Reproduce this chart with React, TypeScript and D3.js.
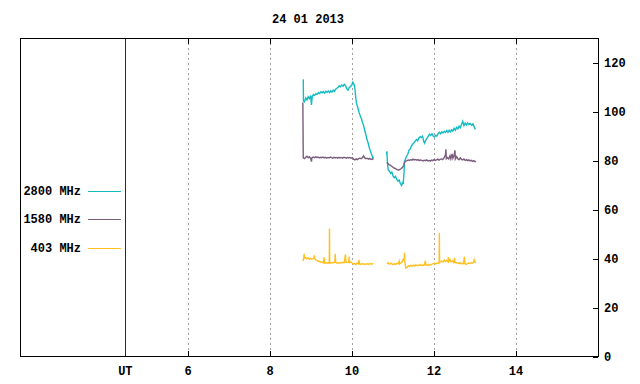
import React from "react";
import * as d3 from "d3";

type P = [number, number];

const title = "24 01 2013";
const xTicks = [6, 8, 10, 12, 14];
const yTicks = [0, 20, 40, 60, 80, 100, 120];
const utMark = 4.47;
const xDomain: [number, number] = [1.9, 16];
const yDomain: [number, number] = [0, 130.3];

const seriesNames = ["2800 MHz", "1580 MHz", "403 MHz"];
const seriesColors = ["#14bcc0", "#7a5c7c", "#ffc020"];

const s2800A: P[] = [
  [8.81, 113.4], [8.815, 104.5], [8.84, 104.2], [8.87, 105.8], [8.9, 105.0], [8.93, 106.3], [8.96, 105.6],
  [8.99, 106.8], [9.01, 103.0], [9.03, 106.5], [9.06, 107.2], [9.09, 106.9], [9.12, 107.6], [9.15, 107.3],
  [9.18, 108.0], [9.21, 107.6], [9.24, 108.3], [9.27, 107.9], [9.3, 108.4], [9.33, 107.8], [9.36, 108.5],
  [9.39, 108.1], [9.42, 108.6], [9.45, 108.0], [9.48, 108.7], [9.51, 108.2], [9.54, 109.0], [9.57, 108.5],
  [9.6, 109.4], [9.63, 109.8], [9.66, 110.2], [9.69, 110.8], [9.72, 110.4], [9.75, 111.1], [9.78, 110.6],
  [9.81, 111.4], [9.84, 110.9], [9.87, 109.6], [9.9, 109.0], [9.93, 110.0], [9.96, 110.5], [9.99, 111.0],
  [10.02, 112.3], [10.05, 111.4], [10.07, 109.5], [10.09, 106.0], [10.11, 103.5], [10.13, 102.5],
  [10.15, 101.2], [10.17, 100.0], [10.19, 99.0], [10.21, 98.0], [10.23, 97.4], [10.25, 96.0], [10.27, 95.2],
  [10.29, 94.0], [10.31, 92.5], [10.33, 91.3], [10.35, 90.0], [10.37, 88.5], [10.39, 87.6], [10.41, 86.2],
  [10.43, 85.0], [10.45, 84.0], [10.47, 83.0], [10.49, 82.2], [10.51, 81.0], [10.52, 81.8],
];
const s2800B: P[] = [
  [10.84, 82.6], [10.85, 84.0], [10.86, 80.5], [10.88, 76.5], [10.91, 76.0], [10.94, 75.0], [10.97, 75.5],
  [11.0, 74.0], [11.03, 73.2], [11.06, 73.8], [11.09, 72.5], [11.12, 71.8], [11.15, 72.3], [11.18, 70.8],
  [11.21, 70.0], [11.23, 71.2], [11.25, 71.0], [11.27, 76.0], [11.28, 79.8], [11.3, 80.8], [11.33, 82.0],
  [11.36, 82.8], [11.39, 84.5], [11.42, 85.0], [11.45, 86.2], [11.48, 86.9], [11.51, 87.5], [11.54, 88.2],
  [11.57, 88.8], [11.6, 88.3], [11.63, 89.5], [11.66, 90.0], [11.69, 89.6], [11.72, 90.2], [11.75, 88.0],
  [11.77, 87.3], [11.8, 88.6], [11.83, 89.4], [11.86, 90.2], [11.89, 91.0], [11.92, 90.5], [11.95, 91.2],
  [11.98, 90.3], [12.01, 89.9], [12.04, 90.6], [12.07, 90.2], [12.1, 91.3], [12.13, 91.8], [12.16, 91.2],
  [12.19, 92.0], [12.22, 91.5], [12.25, 92.2], [12.28, 91.7], [12.31, 92.5], [12.34, 91.8], [12.37, 92.6],
  [12.4, 92.0], [12.43, 92.8], [12.46, 92.2], [12.49, 93.4], [12.52, 92.6], [12.55, 93.8], [12.58, 93.2],
  [12.61, 94.3], [12.64, 93.6], [12.67, 95.0], [12.7, 96.3], [12.73, 94.5], [12.76, 95.5], [12.79, 94.8],
  [12.82, 95.6], [12.85, 95.0], [12.88, 95.4], [12.92, 94.6], [12.95, 95.2], [12.98, 94.0], [13.01, 93.0],
];

const s1580A: P[] = [
  [8.8, 104.0], [8.81, 81.3], [8.84, 81.0], [8.87, 81.6], [8.9, 82.0], [8.93, 81.4], [8.96, 81.8],
  [8.99, 81.2], [9.01, 79.8], [9.02, 81.3], [9.05, 81.7], [9.08, 81.4], [9.11, 81.8], [9.14, 81.5],
  [9.17, 81.7], [9.2, 81.3], [9.23, 81.6], [9.26, 81.4], [9.29, 81.7], [9.32, 81.3], [9.35, 81.6],
  [9.38, 81.2], [9.41, 81.5], [9.44, 81.3], [9.47, 81.7], [9.5, 81.4], [9.53, 81.2], [9.56, 81.6],
  [9.59, 81.3], [9.62, 81.5], [9.65, 81.2], [9.68, 81.6], [9.71, 81.3], [9.74, 81.5], [9.77, 81.2],
  [9.8, 81.6], [9.83, 81.4], [9.86, 81.2], [9.89, 81.5], [9.92, 81.3], [9.95, 81.5], [9.98, 81.2],
  [10.01, 81.4], [10.04, 80.8], [10.07, 80.5], [10.1, 80.9], [10.13, 80.6], [10.16, 81.0], [10.19, 81.2],
  [10.22, 81.0], [10.25, 81.4], [10.28, 82.2], [10.31, 81.3], [10.34, 81.0], [10.37, 81.2], [10.4, 80.8],
  [10.43, 81.1], [10.46, 80.7], [10.49, 80.9], [10.52, 80.6],
];
const s1580B: P[] = [
  [10.85, 79.5], [10.87, 79.0], [10.9, 78.6], [10.93, 78.4], [10.96, 78.0], [10.99, 77.6], [11.02, 77.2],
  [11.05, 77.0], [11.08, 76.7], [11.11, 76.5], [11.14, 76.4], [11.17, 76.6], [11.2, 77.0], [11.23, 77.5],
  [11.26, 78.2], [11.28, 79.5], [11.31, 80.0], [11.34, 80.2], [11.37, 80.5], [11.4, 80.3], [11.43, 80.6],
  [11.46, 80.4], [11.49, 80.8], [11.52, 80.5], [11.55, 80.7], [11.58, 80.4], [11.61, 80.6], [11.64, 80.2],
  [11.67, 80.5], [11.7, 80.3], [11.73, 80.1], [11.76, 80.4], [11.79, 80.2], [11.82, 80.5], [11.85, 80.1],
  [11.88, 80.3], [11.91, 80.0], [11.94, 80.4], [11.97, 80.2], [12.0, 80.6], [12.03, 80.3], [12.06, 80.5],
  [12.09, 80.8], [12.12, 80.4], [12.15, 80.7], [12.18, 80.9], [12.21, 80.6], [12.24, 81.2], [12.28, 82.6],
  [12.29, 84.8], [12.3, 81.0], [12.33, 81.5], [12.36, 80.9], [12.39, 82.2], [12.41, 81.0], [12.44, 83.0],
  [12.46, 81.2], [12.49, 82.5], [12.51, 84.4], [12.52, 80.9], [12.55, 81.8], [12.58, 81.0], [12.61, 80.6],
  [12.64, 81.3], [12.67, 80.7], [12.7, 80.5], [12.73, 80.9], [12.76, 80.3], [12.79, 80.6], [12.82, 80.2],
  [12.85, 80.5], [12.88, 80.1], [12.91, 80.3], [12.94, 79.9], [12.97, 80.2], [13.0, 79.8], [13.02, 80.0],
];

const s403A: P[] = [
  [8.8, 39.2], [8.82, 40.0], [8.83, 42.2], [8.84, 40.4], [8.87, 40.6], [8.9, 40.1], [8.93, 40.5],
  [8.96, 39.9], [8.99, 40.3], [9.02, 40.0], [9.05, 40.2], [9.07, 40.4], [9.08, 41.5], [9.09, 40.2],
  [9.12, 39.6], [9.15, 39.4], [9.18, 39.1], [9.21, 39.0], [9.24, 38.8], [9.27, 38.7], [9.3, 38.5],
  [9.32, 40.7], [9.33, 38.4], [9.36, 38.5], [9.39, 38.3], [9.42, 38.5], [9.445, 38.4], [9.45, 52.5],
  [9.455, 38.5], [9.48, 38.4], [9.51, 38.6], [9.54, 38.5], [9.58, 38.7], [9.59, 42.2], [9.6, 38.6],
  [9.63, 38.4], [9.66, 38.5], [9.69, 38.3], [9.72, 38.6], [9.75, 38.5], [9.78, 38.7], [9.81, 38.6],
  [9.84, 41.9], [9.85, 38.8], [9.88, 38.6], [9.92, 38.7], [9.93, 41.0], [9.94, 38.6], [9.97, 38.9],
  [10.0, 38.4], [10.03, 38.0], [10.06, 38.2], [10.09, 37.8], [10.12, 38.3], [10.15, 38.0], [10.17, 39.7],
  [10.18, 38.1], [10.21, 37.8], [10.24, 38.2], [10.27, 37.9], [10.3, 38.0], [10.33, 37.8], [10.36, 38.1],
  [10.39, 37.9], [10.42, 38.0], [10.45, 38.1], [10.48, 37.9], [10.52, 38.3],
];
const s403B: P[] = [
  [10.85, 38.1], [10.88, 38.5], [10.91, 37.9], [10.94, 38.3], [10.97, 38.0], [11.0, 37.7], [11.03, 38.1],
  [11.06, 37.8], [11.09, 38.2], [11.12, 38.0], [11.15, 39.2], [11.16, 38.0], [11.19, 38.4], [11.22, 38.8],
  [11.25, 39.9], [11.27, 39.5], [11.28, 42.6], [11.29, 38.5], [11.31, 36.3], [11.34, 36.5], [11.37, 37.2],
  [11.4, 37.0], [11.43, 37.4], [11.46, 37.1], [11.49, 37.5], [11.52, 37.2], [11.55, 37.6], [11.58, 37.3],
  [11.61, 37.5], [11.64, 37.4], [11.67, 37.8], [11.7, 37.3], [11.73, 37.6], [11.76, 37.5], [11.79, 39.3],
  [11.8, 37.6], [11.83, 37.4], [11.86, 37.8], [11.89, 37.4], [11.92, 37.7], [11.95, 37.9], [11.98, 38.1],
  [12.01, 38.3], [12.04, 38.0], [12.07, 38.4], [12.1, 38.2], [12.125, 38.5], [12.13, 50.8], [12.135, 38.6],
  [12.16, 39.0], [12.19, 39.2], [12.22, 38.8], [12.25, 39.6], [12.28, 39.0], [12.31, 39.4], [12.34, 38.9],
  [12.35, 40.8], [12.36, 39.0], [12.39, 39.8], [12.42, 38.8], [12.45, 39.2], [12.48, 38.6], [12.5, 40.5],
  [12.51, 38.7], [12.54, 38.4], [12.57, 38.6], [12.6, 38.2], [12.63, 38.5], [12.66, 38.0], [12.69, 38.3],
  [12.72, 38.1], [12.74, 41.0], [12.75, 38.2], [12.78, 37.8], [12.81, 38.0], [12.84, 38.4], [12.87, 38.2],
  [12.9, 38.5], [12.93, 38.3], [12.96, 38.6], [12.98, 39.7], [13.0, 38.8], [13.02, 38.4],
];

const seriesSegments: P[][][] = [
  [s2800A, s2800B],
  [s1580A, s1580B],
  [s403A, s403B],
];

const W = 640;
const H = 384;
const L = 20;
const R = 598;
const T = 38;
const B = 357;
const font = "'Liberation Mono', 'DejaVu Sans Mono', monospace";

export default function App() {
  const x = d3.scaleLinear().domain(xDomain).range([L, R]);
  const y = d3.scaleLinear().domain(yDomain).range([B, T]);
  const line = d3
    .line<P>()
    .x((d) => x(d[0]))
    .y((d) => y(d[1]));
  const legendY = [191, 219, 248];

  return (
    <svg
      width={W}
      height={H}
      style={{ position: "absolute", left: 0, top: 0, background: "#fff" }}
      fontFamily={font}
      fontWeight="bold"
      fontSize={12}
    >
      <rect x={0} y={0} width={W} height={H} fill="#fff" />
      <text x={308} y={23} textAnchor="middle" fill="#000">
        {title}
      </text>
      {xTicks.map((t) => (
        <g key={"xt" + t}>
          <line
            x1={Math.round(x(t)) + 0.5}
            x2={Math.round(x(t)) + 0.5}
            y1={T}
            y2={B}
            stroke="#a0a0a0"
            strokeDasharray="2,3"
          />
          <line x1={Math.round(x(t)) + 0.5} x2={Math.round(x(t)) + 0.5} y1={T} y2={T + 6} stroke="#000" />
          <line x1={Math.round(x(t)) + 0.5} x2={Math.round(x(t)) + 0.5} y1={B - 6} y2={B} stroke="#000" />
          <text x={x(t)} y={375} textAnchor="middle" fill="#000">
            {t}
          </text>
        </g>
      ))}
      <line
        x1={Math.round(x(utMark)) + 0.5}
        x2={Math.round(x(utMark)) + 0.5}
        y1={T}
        y2={B}
        stroke="#8b0000"
      />
      <text x={x(utMark)} y={375} textAnchor="middle" fill="#000">
        UT
      </text>
      {yTicks.map((v) => (
        <g key={"yt" + v}>
          <line x1={R - 5} x2={R} y1={Math.round(y(v)) + 0.5} y2={Math.round(y(v)) + 0.5} stroke="#000" />
          <text x={604} y={y(v) + 4} textAnchor="start" fill="#000">
            {v}
          </text>
        </g>
      ))}
      {seriesSegments.map((segs, i) =>
        segs.map((seg, j) => (
          <path
            key={"s" + i + "_" + j}
            d={line(seg) || ""}
            fill="none"
            stroke={seriesColors[i]}
            strokeWidth={1.4}
            strokeLinejoin="miter"
          />
        ))
      )}
      {seriesNames.map((n, i) => (
        <g key={"lg" + i}>
          <text x={81} y={legendY[i] + 4} textAnchor="end" fill="#000">
            {n}
          </text>
          <line x1={88} x2={121} y1={legendY[i] + 0.5} y2={legendY[i] + 0.5} stroke={seriesColors[i]} />
        </g>
      ))}
      <rect x={L + 0.5} y={T + 0.5} width={R - L} height={B - T - 1} fill="none" stroke="#000" />
    </svg>
  );
}
